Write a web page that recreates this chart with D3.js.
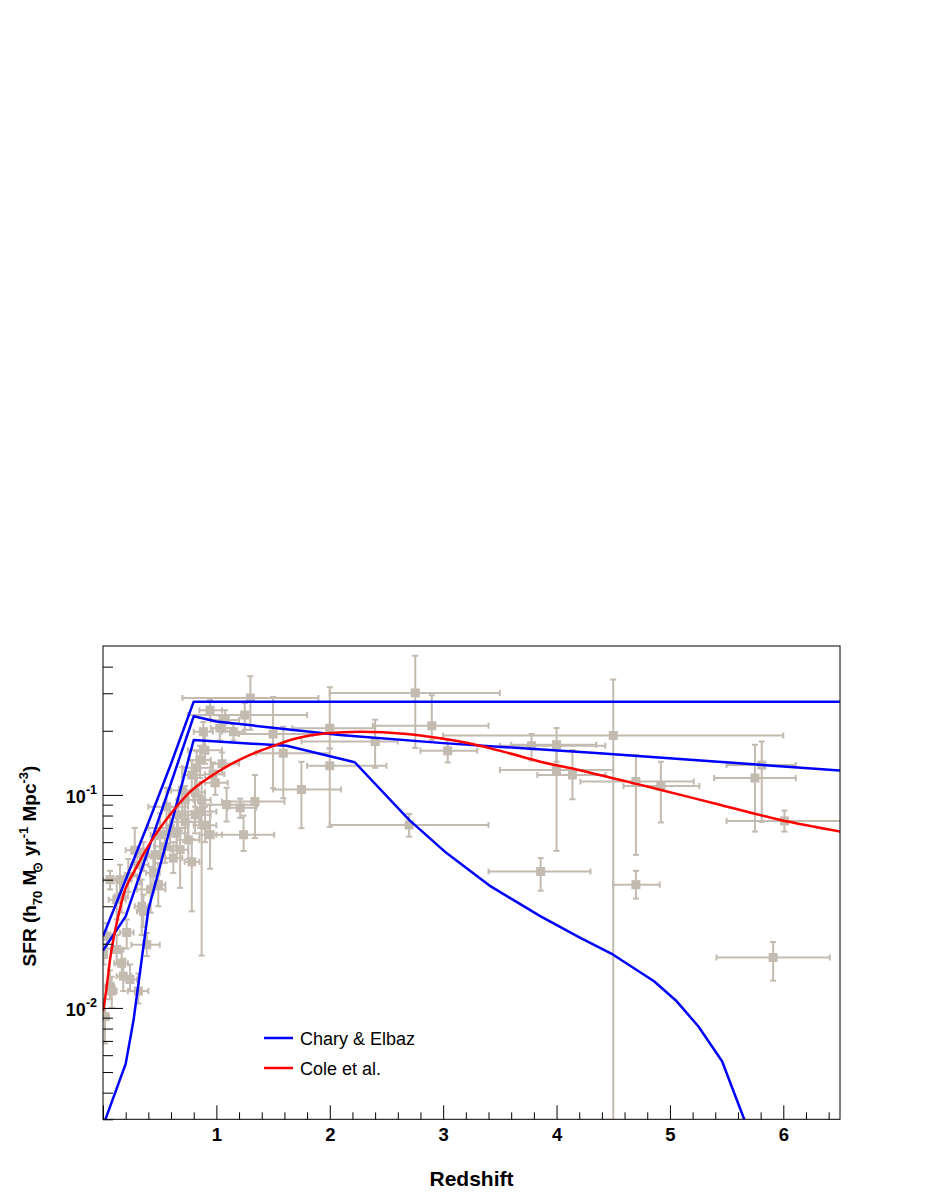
<!DOCTYPE html>
<html><head><meta charset="utf-8">
<script src="https://cdn.jsdelivr.net/npm/d3@7/dist/d3.min.js"></script>
<style>body{margin:0;background:#fff}svg{display:block}</style>
</head><body>
<svg id="chart" width="926" height="1199"></svg>
<script>
// ---------- tick data ----------
const xMajorTicks = [0, 1, 2, 3, 4, 5, 6];
const xTickLabels = ["", "1", "2", "3", "4", "5", "6"];
const xMinorTicks = [0.2,0.4,0.6,0.8,1.2,1.4,1.6,1.8,2.2,2.4,2.6,2.8,3.2,3.4,3.6,3.8,4.2,4.4,4.6,4.8,5.2,5.4,5.6,5.8,6.2,6.4];
const yMajorTicks = [0.01, 0.1];
const yTickExponents = ["-2", "-1"];
const yMinorTicks = [0.003,0.004,0.005,0.006,0.007,0.008,0.009,0.02,0.03,0.04,0.05,0.06,0.07,0.08,0.09,0.2,0.3,0.4];

// ---------- model curves ----------
const charyHighZ   = [0, 0.2, 0.4, 0.6, 0.8, 6.5];
const charyHighSFR = [0.0217, 0.040, 0.074, 0.140, 0.274, 0.274];
const charyMidZ    = [0, 0.2, 0.8, 1.0, 2.09, 3.0, 4.38, 6.5];
const charyMidSFR  = [0.0186, 0.0269, 0.234, 0.221, 0.191, 0.175, 0.157, 0.130];
const charyLowZ    = [0, 0.2, 0.27, 0.4, 0.8, 1.62, 2.22, 2.70, 3.03, 3.42, 3.86, 4.21, 4.50, 4.86, 5.06, 5.25, 5.46, 5.65, 5.8];
const charyLowSFR  = [0.00279, 0.00546, 0.0088, 0.0289, 0.181, 0.170, 0.1423, 0.0763, 0.0533, 0.0372, 0.0269, 0.0213, 0.01778, 0.01334, 0.01074, 0.0082, 0.00562, 0.00305, 0.0019];
const coleZ   = [0, 0.033, 0.062, 0.091, 0.121, 0.194, 0.267, 0.415, 0.591, 0.768, 1.004, 1.121, 1.297, 1.503, 1.710, 1.974, 2.268, 2.681, 2.974, 3.268, 3.563, 3.857, 4.175, 4.799, 5.387, 5.975, 6.505];
const coleSFR = [0.00964, 0.01262, 0.01684, 0.0209, 0.02503, 0.03586, 0.04296, 0.0594, 0.0806, 0.1033, 0.1274, 0.1387, 0.1542, 0.1698, 0.1844, 0.1947, 0.1981, 0.1932, 0.1844, 0.1729, 0.1579, 0.1432, 0.1317, 0.1094, 0.0914, 0.0763, 0.0673];

// ---------- measurements ----------
const pointZ     = [2.754,2.90,2.40,3.04,3.78,4.00,4.00,4.14,4.50,4.70,4.92,5.75,5.81,6.01,3.86,4.70,5.91,2.70,1.30,1.25,1.50,1.59,2.00,2.00,1.75,1.34,1.24,1.09,1.21,1.03,1.15,0.99,0.90,0.885,0.90,0.856,0.827,0.783,0.97,1.05,0.87,0.753,0.68,0.62,0.65,0.856,0.547,0.459,0.356,0.327,0.223,0.15,0.062,0.165,0.121,0.342,0.488,0.444,0.356,0.386,0.312,0.179,0.165,0.238,0.062,0.077,0.018,0.033,0.121,0.209,0.005,0.724,0.662,0.812,0.944,1.077,0.783,0.724,0.812,0.591,0.503,0.944,0.56,0.42,0.28,0.70];
const pointZLo   = [2.00,2.38,1.75,2.80,3.50,3.60,3.50,3.83,3.00,4.21,4.59,5.39,5.50,5.50,3.40,4.50,5.41,2.00,0.70,0.75,1.20,1.35,1.67,1.80,1.50,1.05,1.00,0.87,1.10,0.95,1.05,0.90,0.80,0.80,0.75,0.75,0.70,0.70,0.90,0.95,0.80,0.65,0.60,0.55,0.55,0.70,0.45,0.40,0.30,0.25,0.15,0.05,0.00,0.10,0.05,0.28,0.42,0.38,0.30,0.25,0.22,0.12,0.10,0.18,0.02,0.03,0.00,0.00,0.07,0.15,0.00,0.65,0.58,0.72,0.85,0.95,0.72,0.60,0.70,0.40,0.42,0.85,0.40,0.30,0.20,0.60];
const pointZHi   = [3.50,3.40,2.60,3.30,4.43,4.35,4.50,4.43,6.00,5.21,5.26,6.11,6.11,7.00,4.30,4.91,6.41,3.40,1.90,1.80,1.85,2.00,2.40,2.50,2.10,1.60,1.51,1.36,1.35,1.15,1.25,1.10,1.00,0.97,1.05,0.95,0.95,0.90,1.07,1.20,0.95,0.85,0.75,0.70,0.75,1.00,0.65,0.52,0.42,0.40,0.30,0.25,0.12,0.22,0.20,0.40,0.55,0.50,0.40,0.50,0.40,0.25,0.22,0.30,0.10,0.12,0.05,0.08,0.18,0.27,0.03,0.80,0.75,0.90,1.05,1.20,0.85,0.85,0.95,0.75,0.60,1.05,0.75,0.55,0.36,0.80];
const pointSFR   = [0.301,0.211,0.178,0.161,0.170,0.172,0.131,0.124,0.190,0.1155,0.110,0.120,0.138,0.0755,0.0437,0.0379,0.01725,0.0723,0.285,0.237,0.193,0.157,0.2056,0.137,0.106,0.093,0.065,0.090,0.087,0.206,0.198,0.114,0.072,0.198,0.162,0.146,0.134,0.124,0.125,0.140,0.0947,0.0615,0.0553,0.0505,0.066,0.0835,0.0573,0.0524,0.0514,0.047,0.0414,0.040,0.040,0.0334,0.0322,0.030,0.0379,0.043,0.0284,0.0198,0.0120,0.0141,0.0162,0.0136,0.0126,0.0120,0.0091,0.0217,0.0188,0.0226,0.0178,0.0947,0.0806,0.103,0.250,0.2245,0.0485,0.0747,0.0806,0.070,0.065,0.065,0.088,0.036,0.055,0.105];
const pointSFRLo = [0.166,0.181,0.134,0.142,0.145,0.143,0.0546,0.0954,0.0005,0.0523,0.0742,0.0673,0.0746,0.0673,0.0355,0.0326,0.01343,0.0637,0.202,0.202,0.1075,0.0965,0.165,0.0708,0.0698,0.0627,0.0545,0.075,0.078,0.180,0.180,0.100,0.060,0.170,0.140,0.120,0.110,0.105,0.110,0.125,0.0176,0.050,0.0366,0.043,0.055,0.070,0.048,0.045,0.044,0.038,0.035,0.034,0.036,0.028,0.026,0.022,0.030,0.036,0.024,0.0175,0.0105,0.012,0.014,0.012,0.011,0.010,0.0068,0.019,0.016,0.019,0.016,0.080,0.068,0.088,0.225,0.200,0.0284,0.060,0.066,0.055,0.050,0.045,0.070,0.028,0.042,0.080];
const pointSFRHi = [0.450,0.294,0.225,0.181,0.193,0.206,0.170,0.1625,0.348,0.154,0.143,0.172,0.178,0.0844,0.0505,0.0440,0.0204,0.0814,0.361,0.270,0.288,0.209,0.320,0.165,0.143,0.124,0.080,0.108,0.096,0.235,0.215,0.130,0.088,0.220,0.190,0.170,0.160,0.145,0.142,0.158,0.115,0.075,0.068,0.060,0.080,0.100,0.068,0.062,0.060,0.056,0.050,0.047,0.044,0.040,0.040,0.040,0.048,0.052,0.034,0.0225,0.0145,0.017,0.019,0.016,0.015,0.014,0.011,0.025,0.022,0.026,0.020,0.110,0.095,0.120,0.280,0.250,0.062,0.092,0.098,0.088,0.082,0.090,0.108,0.046,0.070,0.135];

const legendLabels = ["Chary & Elbaz", "Cole et al."];
const legendColors = ["#0000ff", "#ff0000"];

// ---------- drawing ----------
const FONT = "'Liberation Sans', Arial, Helvetica, sans-serif";
const frame = {left: 103, right: 840, top: 646, bottom: 1119.3};
const svg = d3.select("#chart");
const x = d3.scaleLinear().domain([0, 6.5]).range([frame.left, frame.right]);
const y = d3.scaleLog().domain([0.003, 0.5]).range([frame.bottom, frame.top]);

svg.append("defs").append("clipPath").attr("id", "clip")
  .append("rect").attr("x", frame.left).attr("y", frame.top)
  .attr("width", frame.right - frame.left).attr("height", frame.bottom - frame.top);

const plot = svg.append("g").attr("clip-path", "url(#clip)");

// data points
const DCOL = "#c3bab0";
const pts = pointZ.map((z, i) => ({z, zlo: pointZLo[i], zhi: pointZHi[i], s: pointSFR[i], slo: pointSFRLo[i], shi: pointSFRHi[i]}));
const cap = 3;
const eg = plot.append("g").attr("stroke", DCOL).attr("stroke-width", 2).attr("fill", "none");
pts.forEach(p => {
  const cx = x(p.z), cy = y(p.s);
  const x0 = x(p.zlo), x1 = x(p.zhi), y0 = y(p.slo), y1 = y(p.shi);
  eg.append("line").attr("x1", x0).attr("x2", x1).attr("y1", cy).attr("y2", cy);
  eg.append("line").attr("x1", cx).attr("x2", cx).attr("y1", y0).attr("y2", y1);
  eg.append("line").attr("x1", x0).attr("x2", x0).attr("y1", cy - cap).attr("y2", cy + cap);
  eg.append("line").attr("x1", x1).attr("x2", x1).attr("y1", cy - cap).attr("y2", cy + cap);
  eg.append("line").attr("x1", cx - cap).attr("x2", cx + cap).attr("y1", y0).attr("y2", y0);
  eg.append("line").attr("x1", cx - cap).attr("x2", cx + cap).attr("y1", y1).attr("y2", y1);
});
plot.append("g").selectAll("rect").data(pts).join("rect")
  .attr("x", d => x(d.z) - 4.5).attr("y", d => y(d.s) - 4.5)
  .attr("width", 9).attr("height", 9).attr("fill", DCOL);

// curves
const lineGen = d3.line().x(d => x(d[0])).y(d => y(d[1]));
function drawCurve(zs, vs, color, curve) {
  plot.append("path").datum(zs.map((z, i) => [z, vs[i]]))
    .attr("d", lineGen.curve(curve)).attr("fill", "none")
    .attr("stroke", color).attr("stroke-width", 2.5).attr("stroke-linejoin", "round");
}
drawCurve(charyHighZ, charyHighSFR, "#0000ff", d3.curveLinear);
drawCurve(charyMidZ, charyMidSFR, "#0000ff", d3.curveLinear);
drawCurve(charyLowZ, charyLowSFR, "#0000ff", d3.curveLinear);
drawCurve(coleZ, coleSFR, "#ff0000", d3.curveMonotoneX);

// frame
svg.append("rect").attr("x", frame.left).attr("y", frame.top)
  .attr("width", frame.right - frame.left).attr("height", frame.bottom - frame.top)
  .attr("fill", "none").attr("stroke", "#000").attr("stroke-width", 1);

// x axis
const xMajor = svg.append("g").attr("transform", `translate(0,${frame.bottom})`)
  .call(d3.axisBottom(x).tickValues(xMajorTicks).tickSize(-14).tickPadding(8.5)
    .tickFormat((d, i) => xTickLabels[i]));
const xMinor = svg.append("g").attr("transform", `translate(0,${frame.bottom})`)
  .call(d3.axisBottom(x).tickValues(xMinorTicks).tickSize(-7).tickFormat(""));
// y axis
const yMajor = svg.append("g").attr("transform", `translate(${frame.left},0)`)
  .call(d3.axisLeft(y).tickValues(yMajorTicks).tickSize(-20).tickFormat(""));
const yMinor = svg.append("g").attr("transform", `translate(${frame.left},0)`)
  .call(d3.axisLeft(y).tickValues(yMinorTicks).tickSize(-10).tickFormat(""));
[xMajor, xMinor, yMajor, yMinor].forEach(g => {
  g.select(".domain").remove();
  g.selectAll(".tick line").attr("stroke", "#000").attr("stroke-width", 1);
});
xMajor.selectAll(".tick text").attr("font-family", FONT).attr("font-weight", "bold")
  .attr("font-size", "18.5px").attr("fill", "#000");

// y labels 10^n
yMajorTicks.forEach((v, i) => {
  const t = svg.append("text").attr("x", 97).attr("y", y(v) + 8)
    .attr("text-anchor", "end").attr("font-family", FONT).attr("font-weight", "bold")
    .attr("font-size", "18px").attr("fill", "#000");
  t.append("tspan").text("10");
  t.append("tspan").attr("font-size", "12.5px").attr("dy", -9).text(yTickExponents[i]);
});

// axis titles
svg.append("text").attr("x", (frame.left + frame.right) / 2).attr("y", 1186)
  .attr("text-anchor", "middle").attr("font-family", FONT).attr("font-weight", "bold")
  .attr("font-size", "21px").attr("fill", "#000").text("Redshift");

const yt = svg.append("text").attr("transform", "translate(36,866) rotate(-90)")
  .attr("text-anchor", "middle").attr("font-family", FONT).attr("font-weight", "bold")
  .attr("font-size", "19px").attr("fill", "#000");
yt.append("tspan").text("SFR (h");
yt.append("tspan").attr("font-size", "13px").attr("dy", 6).text("70");
yt.append("tspan").attr("dy", -6).text(" M");
yt.append("tspan").attr("font-size", "13px").attr("dy", 6).attr("dx", -3).text("⊙");
yt.append("tspan").attr("dy", -6).text(" yr");
yt.append("tspan").attr("font-size", "13px").attr("dy", -8).text("-1");
yt.append("tspan").attr("dy", 8).text(" Mpc");
yt.append("tspan").attr("font-size", "13px").attr("dy", -8).text("-3");
yt.append("tspan").attr("dy", 8).text(")");

// legend
legendLabels.forEach((lab, i) => {
  const ly = 1038 + i * 30;
  svg.append("line").attr("x1", 264).attr("x2", 293).attr("y1", ly).attr("y2", ly)
    .attr("stroke", legendColors[i]).attr("stroke-width", 2.5);
  svg.append("text").attr("x", 300).attr("y", ly + 6.5).attr("font-family", FONT)
    .attr("font-size", "18px").attr("fill", "#000").text(lab);
});
</script>
</body></html>
